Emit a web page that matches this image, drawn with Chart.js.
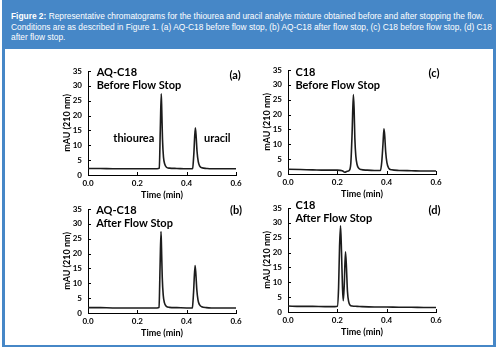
<!DOCTYPE html>
<html>
<head>
<meta charset="utf-8">
<script src="https://cdn.jsdelivr.net/npm/chart.js@4.4.0/dist/chart.umd.min.js"></script>
<style>
  body { margin: 0; width: 500px; height: 350px; background: #fff; position: relative; overflow: hidden; }
  #frame { position: absolute; left: 2px; top: 0; width: 494px; height: 347px; background: #4687c7; }
  #caption { position: absolute; left: 11px; top: 11px; color: #fff; font: 8.8px "Liberation Sans", Arial, sans-serif; line-height: 10.5px; white-space: nowrap; transform-origin: 0 0; }
  #caption b { font-weight: bold; }
  #sheet { position: absolute; left: 5px; top: 49px; width: 488px; height: 296px; background: #fff; }
  canvas { position: absolute; }
</style>
</head>
<body>
<div id="frame"></div>
<div id="caption">
  <span id="line1"><b>Figure 2:</b> Representative chromatograms for the thiourea and uracil analyte mixture obtained before and after stopping the flow.</span><br>
  Conditions are as described in Figure 1. (a) AQ-C18 before flow stop, (b) AQ-C18 after flow stop, (c) C18 before flow stop, (d) C18<br>
  after flow stop.
</div>
<div id="sheet"></div>
<canvas id="chartA" width="186" height="140" style="left:62px;top:60px"></canvas>
<canvas id="chartC" width="186" height="140" style="left:262px;top:59px"></canvas>
<canvas id="chartB" width="186" height="140" style="left:62px;top:198px"></canvas>
<canvas id="chartD" width="186" height="140" style="left:262px;top:197px"></canvas>
<script>
// squeeze the caption so the first line ends where it does in the figure
const line1 = document.getElementById("line1");
const squeeze = 473 / line1.getBoundingClientRect().width;
document.getElementById("caption").style.transform = "scaleX(" + squeeze + ")";

// tick labels
const xTickLabels = ["0.0", "0.2", "0.4", "0.6"];
const yTickLabels = ["0", "5", "10", "15", "20", "25", "30", "35"];

// (a) AQ-C18 before flow stop
const timeA = [0, 0.05, 0.1, 0.15, 0.2, 0.25, 0.28, 0.289, 0.293, 0.297, 0.299, 0.302, 0.306, 0.311, 0.318, 0.33, 0.36, 0.4, 0.42, 0.424, 0.429, 0.435, 0.438, 0.442, 0.447, 0.453, 0.462, 0.48, 0.5, 0.55, 0.6];
const mauA = [2.2, 2.2, 2.1, 2.1, 2.1, 2.1, 2.1, 2.3, 15, 27.3, 22, 12, 6, 3.7, 2.6, 2.3, 2.2, 2.1, 2.1, 2.2, 7, 15.9, 13.5, 8, 4.5, 3, 2.4, 2.2, 2.1, 2.1, 2.1];

// (b) AQ-C18 after flow stop
const timeB = [0, 0.05, 0.1, 0.15, 0.2, 0.25, 0.28, 0.288, 0.292, 0.296, 0.298, 0.301, 0.305, 0.31, 0.317, 0.33, 0.36, 0.4, 0.42, 0.423, 0.428, 0.434, 0.437, 0.441, 0.446, 0.452, 0.461, 0.48, 0.5, 0.55, 0.6];
const mauB = [1.8, 1.8, 1.7, 1.7, 1.7, 1.7, 1.7, 1.9, 15, 27.4, 22, 12, 6, 3.4, 2.3, 1.9, 1.8, 1.7, 1.7, 1.8, 7, 16, 13.5, 8, 4.3, 2.8, 2.1, 1.8, 1.7, 1.7, 1.7];

// (c) C18 before flow stop
const timeC = [0, 0.05, 0.1, 0.15, 0.2, 0.22, 0.23, 0.24, 0.25, 0.255, 0.26, 0.265, 0.268, 0.271, 0.275, 0.28, 0.286, 0.296, 0.32, 0.35, 0.375, 0.38, 0.385, 0.389, 0.392, 0.396, 0.401, 0.408, 0.42, 0.45, 0.5, 0.55, 0.6];
const mauC = [1.6, 1.5, 1.4, 1.3, 1.3, 1.1, 0.6, 0.9, 1.4, 4, 14, 26.7, 22, 12, 6, 3.2, 2.0, 1.5, 1.3, 1.2, 1.2, 4, 10, 15.2, 13, 7.5, 3.8, 2.0, 1.4, 1.2, 1.1, 1.0, 1.0];

// (d) C18 after flow stop
const timeD = [0, 0.05, 0.1, 0.15, 0.19, 0.2, 0.205, 0.209, 0.213, 0.217, 0.221, 0.224, 0.228, 0.233, 0.237, 0.241, 0.246, 0.252, 0.26, 0.28, 0.3, 0.35, 0.4, 0.45, 0.5, 0.55, 0.6];
const mauD = [2.0, 1.9, 1.9, 1.8, 1.8, 1.9, 8, 22, 29, 20, 8, 3.8, 9, 20.3, 15, 7, 3.5, 2.3, 2.0, 1.9, 1.8, 1.7, 1.7, 1.6, 1.6, 1.5, 1.5];

const FONT = "Lato, 'Open Sans', sans-serif";

// text inside the plot + small inward tick marks
const panelText = {
  id: "panelText",
  afterDraw(chart, args, opts) {
    const ctx = chart.ctx;
    const xs = chart.scales.x;
    const ys = chart.scales.y;
    ctx.save();
    ctx.strokeStyle = "#000";
    ctx.lineWidth = 1;
    ys.ticks.forEach((t) => {
      const py = Math.round(ys.getPixelForValue(t.value)) + 0.5;
      ctx.beginPath();
      ctx.moveTo(xs.left, py);
      ctx.lineTo(xs.left + 3, py);
      ctx.stroke();
    });
    xs.ticks.forEach((t) => {
      const px = Math.round(xs.getPixelForValue(t.value)) + 0.5;
      ctx.beginPath();
      ctx.moveTo(px, ys.bottom);
      ctx.lineTo(px, ys.bottom - 3);
      ctx.stroke();
    });
    ctx.fillStyle = "#000";
    ctx.textBaseline = "middle";
    opts.labels.forEach((l) => {
      ctx.font = "bold " + (l.size || 11) + "px " + FONT;
      ctx.textAlign = l.align || "left";
      ctx.fillText(l.text, xs.getPixelForValue(l.x), ys.getPixelForValue(l.y));
    });
    ctx.restore();
  },
};

function makeChart(id, times, values, labels) {
  const pts = times.map((t, i) => ({ x: t, y: values[i] }));
  new Chart(document.getElementById(id), {
    type: "line",
    data: {
      datasets: [
        {
          data: pts,
          borderColor: "#1c1c1c",
          borderWidth: 1.6,
          pointRadius: 0,
          cubicInterpolationMode: "monotone",
        },
      ],
    },
    options: {
      responsive: false,
      animation: false,
      layout: { padding: { top: 11, right: 12, left: 0, bottom: 0 } },
      plugins: {
        legend: { display: false },
        tooltip: { enabled: false },
        panelText: { labels: labels },
      },
      scales: {
        x: {
          type: "linear",
          min: 0,
          max: 0.6,
          afterFit: (s) => { s.height = 25; },
          grid: { display: false, drawTicks: false },
          border: { color: "#000", width: 1 },
          ticks: {
            stepSize: 0.2,
            padding: 4,
            maxRotation: 0,
            color: "#000",
            font: { family: FONT, size: 8, weight: "bold" },
            callback: (v) => xTickLabels[Math.round(v / 0.2)],
          },
          title: { display: true, text: "Time (min)", color: "#000", padding: 0, font: { family: FONT, size: 9, weight: "bold" } },
        },
        y: {
          min: 0,
          max: 35,
          afterFit: (s) => { s.width = 26; },
          grid: { display: false, drawTicks: false },
          border: { color: "#000", width: 1 },
          ticks: {
            stepSize: 5,
            padding: 6,
            color: "#000",
            font: { family: FONT, size: 8, weight: "bold" },
            callback: (v) => yTickLabels[Math.round(v / 5)],
          },
          title: { display: true, text: "mAU (210 nm)", color: "#000", padding: 0, font: { family: FONT, size: 9, weight: "bold" } },
        },
      },
    },
    plugins: [panelText],
  });
}

makeChart("chartA", timeA, mauA, [
  { text: "AQ-C18", x: 0.035, y: 34.5 },
  { text: "Before Flow Stop", x: 0.035, y: 30.2 },
  { text: "(a)", x: 0.619, y: 33.6, align: "right" },
  { text: "thiourea", x: 0.1025, y: 12.4 },
  { text: "uracil", x: 0.47, y: 12.4 },
]);
makeChart("chartC", timeC, mauC, [
  { text: "C18", x: 0.03, y: 34.1 },
  { text: "Before Flow Stop", x: 0.03, y: 29.8 },
  { text: "(c)", x: 0.614, y: 33.9, align: "right" },
]);
makeChart("chartB", timeB, mauB, [
  { text: "AQ-C18", x: 0.033, y: 34.4 },
  { text: "After Flow Stop", x: 0.033, y: 30.3 },
  { text: "(b)", x: 0.624, y: 34.6, align: "right" },
]);
makeChart("chartD", timeD, mauD, [
  { text: "C18", x: 0.03, y: 35.8 },
  { text: "After Flow Stop", x: 0.03, y: 31.6 },
  { text: "(d)", x: 0.618, y: 34.3, align: "right" },
]);
</script>
</body>
</html>
